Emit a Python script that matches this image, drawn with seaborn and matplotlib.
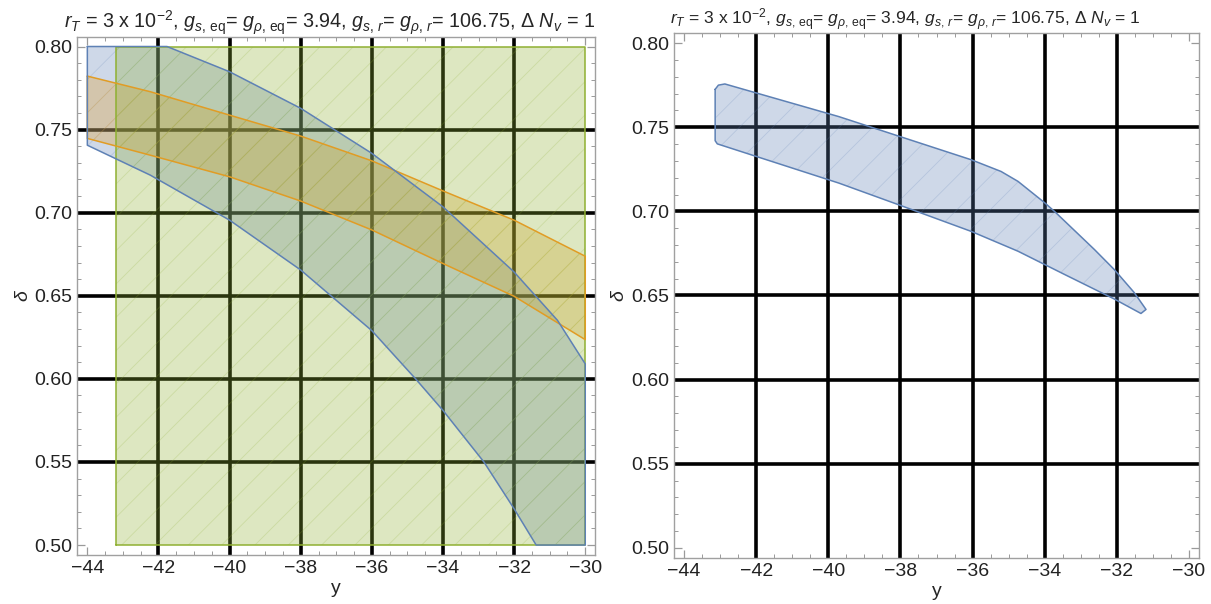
import numpy as np
import pandas as pd
import matplotlib
matplotlib.use("Agg")
import matplotlib.pyplot as plt
from matplotlib.ticker import MultipleLocator, FormatStrFormatter
import seaborn as sns

# ---- region boundaries (y, delta) ----
# blue band: upper boundary (clipped at delta = 0.80) and lower boundary
blue_upper_y = [-44.0, -41.76, -40.0, -38.0, -36.0, -34.0, -32.0, -30.78, -30.0]
blue_upper_d = [0.800, 0.800, 0.7848, 0.7628, 0.7357, 0.7035, 0.6643, 0.6352, 0.609]
blue_lower_y = [-44.0, -42.23, -40.0, -38.0, -36.0, -34.77, -34.0, -32.85, -32.0, -31.38]
blue_lower_d = [0.7406, 0.7226, 0.6955, 0.6655, 0.629, 0.600, 0.581, 0.550, 0.5218, 0.500]

# orange band
orange_y = [-44.0, -42.23, -40.0, -38.0, -36.0, -34.0, -32.0, -30.0]
orange_upper_d = [0.7822, 0.7728, 0.7587, 0.7461, 0.7312, 0.7131, 0.6955, 0.6738]
orange_lower_d = [0.7447, 0.7346, 0.7216, 0.7070, 0.6896, 0.6694, 0.6497, 0.6236]

# green box
green_y = [-43.2, -30.0]
green_d = [0.50, 0.80]

# combined allowed region (right panel)
comb_upper_y = [-43.14, -43.05, -42.87, -39.71, -36.03, -35.21, -34.74, -34.0,
                -33.72, -32.62, -32.07, -31.52, -31.19]
comb_upper_d = [0.7725, 0.7750, 0.7757, 0.7563, 0.7306, 0.7237, 0.7178, 0.7051,
                0.6998, 0.6773, 0.6654, 0.6518, 0.6417]
comb_lower_y = [-43.14, -43.08, -39.71, -38.05, -36.04, -34.74, -33.45, -32.08, -31.33]
comb_lower_d = [0.7420, 0.7401, 0.7168, 0.7039, 0.6881, 0.6763, 0.6625, 0.6480, 0.6393]

x_range = (-44.0, -30.0)
d_range = (0.50, 0.80)
title = (r"$r_T$ = 3 x 10$^{-2}$, $g_{s,\,\mathrm{eq}}$= $g_{\rho,\,\mathrm{eq}}$= 3.94, "
         r"$g_{s,\,r}$= $g_{\rho,\,r}$= 106.75, $\Delta$ $N_v$ = 1")

BLUE = "#5E81B5"
ORANGE = "#E19C24"
GREEN = "#8FB032"

sns.set_style("ticks")
plt.rcParams.update({
    "font.family": ["Liberation Sans", "DejaVu Sans"],
    "mathtext.fontset": "custom",
    "mathtext.rm": "Liberation Sans",
    "mathtext.it": "Liberation Sans:italic",
    "mathtext.bf": "Liberation Sans:bold",
    "hatch.linewidth": 0.6,
})


def band_polygon(top_x, top_y, bot_x, bot_y, right_edge=None):
    xs = list(top_x)
    ys = list(top_y)
    if right_edge is not None:
        for px, py in right_edge:
            xs.append(px)
            ys.append(py)
    xs += list(bot_x)[::-1]
    ys += list(bot_y)[::-1]
    return pd.DataFrame({"y": xs + [xs[0]], "delta": ys + [ys[0]]})


def fill_region(ax, poly, color, alpha=0.3, z=2):
    ax.fill(poly["y"], poly["delta"], facecolor=color, alpha=alpha,
            edgecolor="none", zorder=z)
    ax.fill(poly["y"], poly["delta"], facecolor="none",
            edgecolor=matplotlib.colors.to_rgba(color, 0.22), lw=0,
            hatch="/", zorder=z)


def outline_region(ax, poly, color):
    sns.lineplot(data=poly, x="y", y="delta", sort=False, estimator=None,
                 color=color, lw=1.1, ax=ax, zorder=6)


def style_axes(ax, title_size, title_x):
    ax.set_xlim(x_range[0] - 0.28, x_range[1] + 0.28)
    ax.set_ylim(d_range[0] - 0.006, d_range[1] + 0.006)
    ax.xaxis.set_major_locator(MultipleLocator(2))
    ax.xaxis.set_minor_locator(MultipleLocator(0.5))
    ax.yaxis.set_major_locator(MultipleLocator(0.05))
    ax.yaxis.set_minor_locator(MultipleLocator(0.01))
    ax.yaxis.set_major_formatter(FormatStrFormatter("%.2f"))
    ax.tick_params(which="both", direction="in", top=True, right=True,
                   color="#9a9a9a", labelsize=14, labelcolor="#222222")
    ax.tick_params(which="major", length=6, width=0.9)
    ax.tick_params(which="minor", length=3, width=0.7)
    for s in ax.spines.values():
        s.set_color("#a0a0a0")
        s.set_linewidth(1.0)
    for gx in range(-42, -31, 2):
        ax.axvline(gx, color="black", lw=2.6, zorder=1)
    for gd in [0.55, 0.60, 0.65, 0.70, 0.75]:
        ax.axhline(gd, color="black", lw=2.6, zorder=1)
    ax.set_xlabel("y", fontsize=14, labelpad=2)
    ax.set_ylabel(r"$\delta$", fontsize=14, labelpad=2)
    ax.set_title(title, fontsize=title_size, x=title_x, pad=6)


fig = plt.figure(figsize=(12.11, 6.04), dpi=100)
ax1 = fig.add_axes([0.0639, 0.0811, 0.4276, 0.8584])
ax2 = fig.add_axes([0.5566, 0.0762, 0.4335, 0.8692])

# left panel: individual constraints
blue_poly = band_polygon(blue_upper_y, blue_upper_d, blue_lower_y, blue_lower_d,
                         right_edge=[(-30.0, 0.50)])
orange_poly = band_polygon(orange_y, orange_upper_d, orange_y, orange_lower_d)
green_poly = pd.DataFrame({"y": [green_y[0], green_y[1], green_y[1], green_y[0], green_y[0]],
                           "delta": [green_d[0], green_d[0], green_d[1], green_d[1], green_d[0]]})
fill_region(ax1, blue_poly, BLUE, z=2)
fill_region(ax1, orange_poly, ORANGE, z=3)
fill_region(ax1, green_poly, GREEN, z=4)
outline_region(ax1, green_poly, GREEN)
outline_region(ax1, orange_poly, ORANGE)
outline_region(ax1, blue_poly, BLUE)
style_axes(ax1, 14.2, 0.488)

# right panel: overlap of all constraints
comb_poly = band_polygon(comb_upper_y, comb_upper_d, comb_lower_y, comb_lower_d)
fill_region(ax2, comb_poly, BLUE, z=2)
outline_region(ax2, comb_poly, BLUE)
style_axes(ax2, 12.6, 0.44)

fig.savefig("out.png", dpi=100)
